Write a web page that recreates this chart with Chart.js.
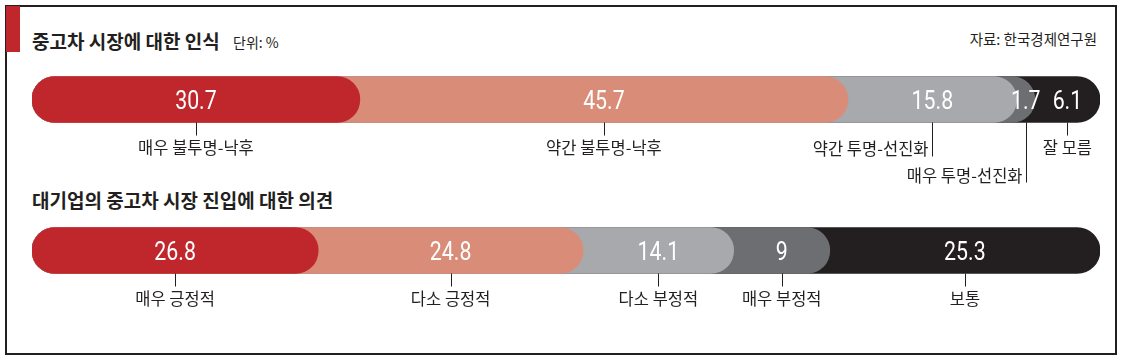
<!DOCTYPE html>
<html><head><meta charset="utf-8">
<script src="https://cdn.jsdelivr.net/npm/chart.js@4/dist/chart.umd.min.js"></script>
<style>
html,body{margin:0;padding:0;background:#fff;width:1122px;height:360px;overflow:hidden;}
#wrap{position:relative;width:1122px;height:360px;font-family:"Noto Sans CJK KR",sans-serif;color:#231f20;}
#frame{position:absolute;left:5px;top:5px;width:1112px;height:350px;box-sizing:border-box;border:2px solid #231f20;}
#accent{position:absolute;left:6px;top:6px;width:14px;height:46px;background:#c0272d;}
.t{position:absolute;white-space:nowrap;line-height:20px;}
canvas{position:absolute;left:0;top:0;}
</style></head>
<body><div id="wrap">
<div id="frame"></div><div id="accent"></div>
<div class="t" style="left:32px;top:31px;font-size:19px;font-weight:700">중고차 시장에 대한 인식</div>
<div class="t" style="left:233px;top:32px;font-size:14px;">단위: %</div>
<div class="t" style="right:25px;top:29px;font-size:14.5px;">자료: 한국경제연구원</div>
<div class="t" style="left:32px;top:190px;font-size:19px;font-weight:700">대기업의 중고차 시장 진입에 대한 의견</div>
<canvas id="c" width="1122" height="360"></canvas>
</div>
<script>
// ---- data ----
const rowNames = ['중고차 시장에 대한 인식', '대기업의 중고차 시장 진입에 대한 의견'];
const perceptionLabels = ['매우 불투명-낙후', '약간 불투명-낙후', '약간 투명-선진화', '매우 투명-선진화', '잘 모름'];
const perceptionValues = [30.7, 45.7, 15.8, 1.7, 6.1];
const entryLabels = ['매우 긍정적', '다소 긍정적', '다소 부정적', '매우 부정적', '보통'];
const entryValues = [26.8, 24.8, 14.1, 9, 25.3];

// ---- styles ----
const segmentColors = ['#c0272d', '#d98d78', '#a7a9ac', '#6d6e71', '#231f20'];
const rows = [
  { labels: perceptionLabels, values: perceptionValues },
  { labels: entryLabels, values: entryValues }
];
// callout placement: default is centered under the segment with a short leader
const calloutSpecial = { '0-2': { side: 'left', drop: 34, dy: -8 }, '0-3': { side: 'left', drop: 60, dy: -7 } };

function cum(values, i) { let s = 0; for (let k = 0; k <= i; k++) s += values[k]; return s; }

const datasets = segmentColors.map((col, i) => ({
  label: 'seg' + i,
  data: rows.map(r => [0, cum(r.values, i)]),
  backgroundColor: col,
  borderWidth: 0,
  borderSkipped: false,
  borderRadius: 23,
  barThickness: 46,
  grouped: false
}));

const calloutPlugin = {
  id: 'callouts',
  afterDatasetsDraw(chart) {
    const ctx = chart.ctx;
    const xs = chart.scales.x;
    rows.forEach((r, j) => {
      const bar = chart.getDatasetMeta(0).data[j];
      const cy = bar.y;
      const bottom = cy + 23;
      r.values.forEach((v, i) => {
        const x0 = xs.getPixelForValue(i === 0 ? 0 : cum(r.values, i - 1));
        const x1 = xs.getPixelForValue(cum(r.values, i));
        const cx = (x0 + x1) / 2;
        // value text
        ctx.save();
        ctx.fillStyle = '#ffffff';
        ctx.font = '400 26px Roboto, "Liberation Sans", sans-serif';
        ctx.textAlign = 'center';
        ctx.textBaseline = 'alphabetic';
        ctx.translate(cx, cy + 9);
        ctx.scale(0.82, 1);
        ctx.fillText(String(v), 0, 0);
        ctx.restore();
        // leader + category label
        const sp = calloutSpecial[j + '-' + i];
        ctx.save();
        ctx.strokeStyle = '#231f20';
        ctx.lineWidth = 1;
        ctx.fillStyle = '#231f20';
        ctx.font = '400 16.5px "Noto Sans CJK KR", sans-serif';
        ctx.textBaseline = 'middle';
        const lx = Math.round(cx) + 0.5;
        ctx.beginPath();
        if (sp) {
          ctx.moveTo(lx, bottom);
          ctx.lineTo(lx, bottom + sp.drop);
          ctx.stroke();
          ctx.textAlign = 'right';
          ctx.fillText(r.labels[i], lx - 4, bottom + sp.drop + sp.dy);
        } else {
          ctx.moveTo(lx, bottom);
          ctx.lineTo(lx, bottom + 13);
          ctx.stroke();
          ctx.textAlign = 'center';
          ctx.fillText(r.labels[i], cx, bottom + 25);
        }
        ctx.restore();
      });
    });
  }
};

new Chart(document.getElementById('c'), {
  type: 'bar',
  data: { labels: rowNames, datasets },
  options: {
    indexAxis: 'y',
    responsive: false,
    devicePixelRatio: 1,
    animation: false,
    events: [],
    layout: { padding: { left: 32, right: 22, top: 24, bottom: 34 } },
    scales: {
      x: { display: false, min: 0, max: 100, stacked: false },
      y: { display: false, offset: true }
    },
    plugins: { legend: { display: false }, tooltip: { enabled: false } }
  },
  plugins: [calloutPlugin]
});
</script>
</body></html>
